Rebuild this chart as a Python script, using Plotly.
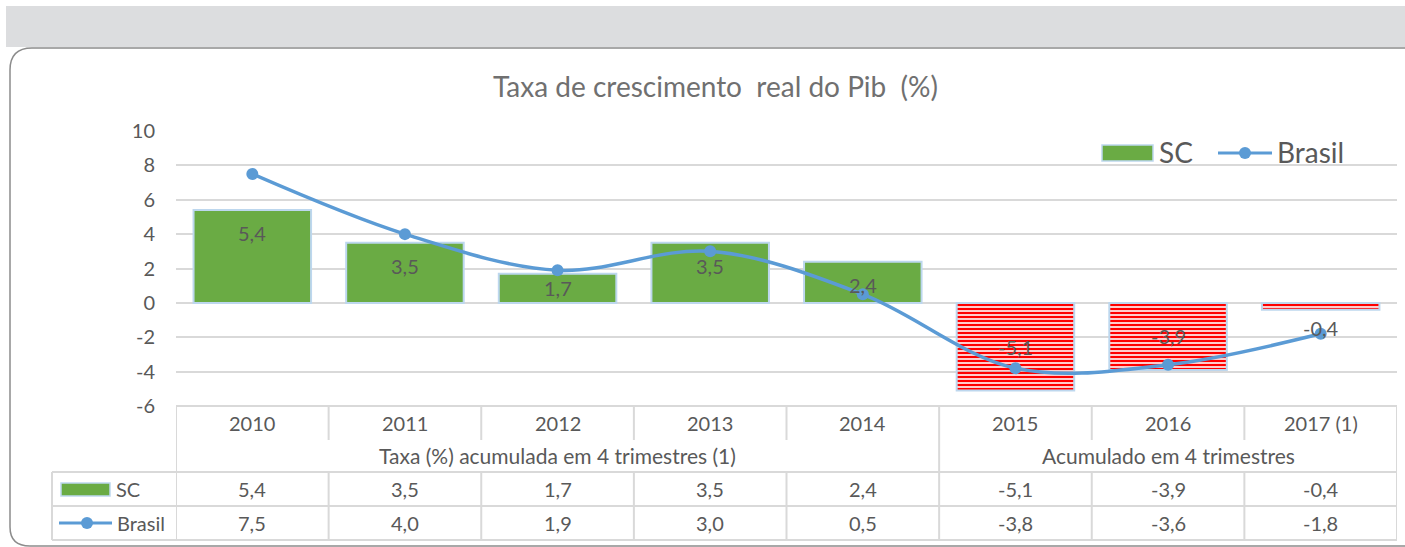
import plotly.graph_objects as go

# ---------------- data ----------------
categories = ["2010", "2011", "2012", "2013", "2014", "2015", "2016", "2017 (1)"]
sc_values = [5.4, 3.5, 1.7, 3.5, 2.4, -5.1, -3.9, -0.4]
brasil_values = [7.5, 4.0, 1.9, 3.0, 0.5, -3.8, -3.6, -1.8]
y_ticks = [-6, -4, -2, 0, 2, 4, 6, 8, 10]
y_tick_labels = ["-6", "-4", "-2", "0", "2", "4", "6", "8", "10"]
group_labels = ["Taxa (%) acumulada em 4 trimestres (1)", "Acumulado em 4 trimestres"]
title_text = "Taxa de crescimento  real do Pib  (%)"

W, H = 1405, 547
FONT = "Lato"
GRAY_TXT = "#595959"
TITLE_TXT = "#707070"
GRID = "#d9d9d9"
GREEN = "#6aab44"
BLUE = "#5b9bd5"
RED = "#ff0000"
EDGE = "#bdd7ee"


def px(x):
    return x / W


def py(y):
    return 1 - y / H


def fmt(v):
    return f"{v:.1f}".replace(".", ",")


def txt(x, y, text, size=20, xref="paper", yref="paper", xanchor="center", color=GRAY_TXT, yshift=0):
    return dict(x=x, y=y, xref=xref, yref=yref, text=text, showarrow=False,
                xanchor=xanchor, yanchor="middle", yshift=yshift,
                font=dict(family=FONT, size=size, color=color))


neg = [v < 0 for v in sc_values]
# negative bars: red horizontal hatching (pattern takes marker colour as foreground)
bar_colors = [RED if b else GREEN for b in neg]
bar_patterns = ["-" if b else "" for b in neg]

fig = go.Figure()
fig.add_trace(go.Bar(
    x=categories, y=sc_values, name="SC",
    marker=dict(color=bar_colors, line=dict(color=EDGE, width=2),
                pattern=dict(shape=bar_patterns, size=4, solidity=0.6, fillmode="replace")),
    width=0.77, showlegend=False,
))
fig.add_trace(go.Scatter(
    x=categories, y=brasil_values, name="Brasil", mode="lines+markers",
    line=dict(color=BLUE, width=3.5, shape="spline", smoothing=1),
    marker=dict(color=BLUE, size=12), showlegend=False,
))

shapes = []
annotations = []

# SC data labels
for i, v in enumerate(sc_values):
    if v > 2:
        annotations.append(txt(i, v, fmt(v), xref="x", yref="y", yshift=-23))
    elif v >= 0 or v < -1:
        annotations.append(txt(i, v / 2, fmt(v), xref="x", yref="y"))
    else:
        annotations.append(txt(i, v, fmt(v), xref="x", yref="y", yshift=-18))

# top gray band and rounded frame
shapes.append(dict(type="rect", xref="paper", yref="paper", x0=px(6), x1=px(1405),
                   y0=py(47), y1=py(6), fillcolor="#dcdddf", line=dict(width=0), layer="below"))
frame_path = (f"M {px(1405)},{py(48)} L {px(32)},{py(48)} "
              f"Q {px(10)},{py(48)} {px(10)},{py(70)} "
              f"L {px(10)},{py(527)} Q {px(10)},{py(546)} {px(30)},{py(546)} L {px(1405)},{py(546)}")
shapes.append(dict(type="path", xref="paper", yref="paper", path=frame_path,
                   line=dict(color="#8c8c8c", width=1.5)))

# table grid
L_TABLE, R_TABLE = px(52), px(1397)
for yy in [472, 506, 540]:
    shapes.append(dict(type="line", xref="paper", yref="paper", x0=L_TABLE, x1=R_TABLE,
                       y0=py(yy), y1=py(yy), line=dict(color=GRID, width=2)))
shapes.append(dict(type="line", xref="paper", yref="paper", x0=px(176), x1=R_TABLE,
                   y0=py(406), y1=py(406), line=dict(color=GRID, width=2)))
shapes.append(dict(type="line", xref="paper", yref="paper", x0=L_TABLE, x1=L_TABLE,
                   y0=py(472), y1=py(540), line=dict(color=GRID, width=2)))
n = len(categories)
split = 5  # group boundary between 2014 and 2015
for i in range(n + 1):
    xb = i - 0.5
    segs = [(406, 440), (472, 540)]
    if i in (0, split, n):
        segs = [(406, 540)]
    for a, b in segs:
        shapes.append(dict(type="line", xref="x", yref="paper", x0=xb, x1=xb,
                           y0=py(a), y1=py(b), line=dict(color=GRID, width=2)))

# table texts (x given as category index)
for i, c in enumerate(categories):
    annotations.append(txt(i, py(423), c, xref="x"))
    annotations.append(txt(i, py(489), fmt(sc_values[i]), xref="x"))
    annotations.append(txt(i, py(523), fmt(brasil_values[i]), xref="x"))
annotations.append(txt((split - 1) / 2, py(455), group_labels[0], xref="x", size=21))
annotations.append(txt((split + n - 1) / 2, py(455), group_labels[1], xref="x", size=21))

# table legend keys
shapes.append(dict(type="rect", xref="paper", yref="paper", x0=px(61), x1=px(110),
                   y0=py(496), y1=py(483), fillcolor=GREEN, line=dict(color=EDGE, width=1.5)))
annotations.append(txt(px(114), py(489), "SC", xanchor="left"))
shapes.append(dict(type="line", xref="paper", yref="paper", x0=px(59), x1=px(112),
                   y0=py(523), y1=py(523), line=dict(color=BLUE, width=3)))
shapes.append(dict(type="circle", xref="paper", yref="paper", x0=px(81), x1=px(93),
                   y0=py(529), y1=py(517), fillcolor=BLUE, line=dict(width=0)))
annotations.append(txt(px(115), py(523), "Brasil", xanchor="left"))

# chart legend (top right)
shapes.append(dict(type="rect", xref="paper", yref="paper", x0=px(1102), x1=px(1153),
                   y0=py(161), y1=py(145), fillcolor=GREEN, line=dict(color=EDGE, width=1.5)))
annotations.append(txt(px(1157), py(152), "SC", size=28, xanchor="left"))
shapes.append(dict(type="line", xref="paper", yref="paper", x0=px(1218), x1=px(1272),
                   y0=py(153), y1=py(153), line=dict(color=BLUE, width=3)))
shapes.append(dict(type="circle", xref="paper", yref="paper", x0=px(1239), x1=px(1251),
                   y0=py(159), y1=py(147), fillcolor=BLUE, line=dict(width=0)))
annotations.append(txt(px(1275), py(152), "Brasil", size=28, xanchor="left"))

# title
annotations.append(txt(px(716), py(86), title_text, size=28, color=TITLE_TXT))

fig.update_layout(
    width=W, height=H, autosize=False,
    margin=dict(l=0, r=0, t=0, b=0, pad=0, autoexpand=False),
    paper_bgcolor="white", plot_bgcolor="white",
    showlegend=False, bargap=0.23,
    font=dict(family=FONT, color=GRAY_TXT),
    xaxis=dict(domain=[px(176), px(1397)], type="category", showticklabels=False,
               showgrid=False, zeroline=False, showline=False, ticks="",
               range=[-0.5, n - 0.5], fixedrange=True, automargin=False),
    yaxis=dict(domain=[py(406), py(131)], range=[-6, 10], tickvals=y_ticks,
               ticktext=y_tick_labels, automargin=False,
               showgrid=True, gridcolor=GRID, gridwidth=1.5, zeroline=True,
               zerolinecolor=GRID, zerolinewidth=1.5, showline=False,
               ticks="", ticklabelstandoff=20,
               tickfont=dict(family=FONT, size=20, color=GRAY_TXT)),
    shapes=shapes, annotations=annotations,
)

fig.write_html("out.html",
               config=dict(displayModeBar=False, responsive=False),
               post_script="document.body.style.margin='0';document.body.style.overflow='hidden';")
